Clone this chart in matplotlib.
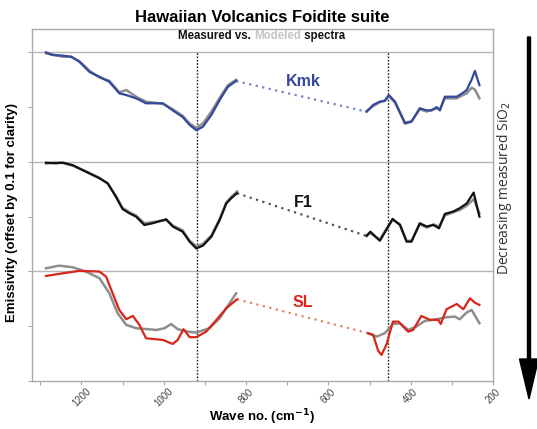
import matplotlib
matplotlib.use("Agg")
import matplotlib.pyplot as plt
from matplotlib.patches import FancyArrow

plt.rcParams['font.family'] = ['Liberation Sans', 'DejaVu Sans']

# ---- spectra (wave number, emissivity) ----
# Kmk
kmk_wn_a = [1286, 1270, 1245, 1225, 1205, 1180, 1156, 1132, 1108, 1091, 1067, 1043,
            1002, 978, 954, 937, 921, 905, 884, 864, 844, 824]
kmk_meas_a = [1.000, 0.9975, 0.997, 0.996, 0.9914, 0.982, 0.9777, 0.973, 0.9626, 0.961,
              0.958, 0.9535, 0.9535, 0.947, 0.941, 0.9337, 0.929, 0.932, 0.943, 0.9565,
              0.9686, 0.9738]
kmk_mod_a = [0.999, 0.998, 0.996, 0.996, 0.992, 0.983, 0.977, 0.974, 0.9635, 0.9656,
             0.9595, 0.955, 0.953, 0.948, 0.942, 0.935, 0.931, 0.935, 0.946, 0.9585,
             0.970, 0.975]
kmk_wn_b = [507, 491, 475, 463, 453, 438, 414, 398, 378, 361, 349, 337, 329, 317, 288,
            273, 264, 252, 244, 233]
kmk_meas_b = [0.9458, 0.952, 0.955, 0.9556, 0.961, 0.955, 0.935, 0.9367, 0.949, 0.947,
              0.947, 0.950, 0.947, 0.9595, 0.9595, 0.963, 0.9656, 0.975, 0.983, 0.970]
kmk_mod_b = [0.9465, 0.951, 0.9545, 0.956, 0.960, 0.954, 0.936, 0.937, 0.948, 0.946,
             0.9475, 0.949, 0.948, 0.958, 0.958, 0.961, 0.9625, 0.9677, 0.966, 0.958]

# F1
f1_wn_a = [1286, 1262, 1245, 1221, 1189, 1156, 1136, 1116, 1100, 1083, 1067, 1047,
           1027, 994, 978, 954, 937, 921, 905, 884, 864, 848, 836, 822]
f1_meas_a = [0.8993, 0.8987, 0.8993, 0.897, 0.891, 0.885, 0.8805, 0.868, 0.857, 0.853,
             0.850, 0.8424, 0.844, 0.8476, 0.841, 0.8363, 0.8272, 0.821, 0.8235, 0.8318,
             0.847, 0.862, 0.8668, 0.8714]
f1_mod_a = [0.8985, 0.8995, 0.899, 0.8965, 0.8915, 0.8855, 0.880, 0.869, 0.858, 0.854,
            0.851, 0.844, 0.845, 0.847, 0.842, 0.8375, 0.828, 0.823, 0.825, 0.833,
            0.848, 0.863, 0.868, 0.873]
f1_wn_b = [507, 498, 475, 459, 444, 426, 410, 398, 378, 361, 345, 331, 317, 297, 281,
           264, 247, 233]
f1_meas_b = [0.8324, 0.8363, 0.828, 0.838, 0.848, 0.8424, 0.8272, 0.8272, 0.844, 0.841,
             0.8424, 0.8394, 0.8525, 0.8546, 0.8577, 0.862, 0.872, 0.850]
f1_mod_b = [0.833, 0.835, 0.829, 0.839, 0.847, 0.843, 0.828, 0.828, 0.843, 0.840,
            0.843, 0.841, 0.851, 0.854, 0.856, 0.860, 0.866, 0.853]

# SL
sl_wn_a = [1286, 1245, 1205, 1156, 1140, 1124, 1108, 1091, 1075, 1059, 1043, 1002, 978,
           966, 952, 937, 921, 897, 872, 848, 822]
sl_meas_a = [0.7959, 0.7983, 0.8005, 0.7999, 0.7953, 0.780, 0.7649, 0.7564, 0.7594,
             0.7512, 0.739, 0.7375, 0.7338, 0.7375, 0.7473, 0.740, 0.740, 0.745, 0.7558,
             0.7664, 0.7746]
sl_wn_mod_a = [1286, 1254, 1221, 1189, 1156, 1132, 1112, 1091, 1067, 1018, 998, 982, 966,
               941, 921, 889, 864, 840, 824]
sl_mod_a = [0.8029, 0.8053, 0.8038, 0.7999, 0.7938, 0.780, 0.7619, 0.7512, 0.7482, 0.7466,
            0.7482, 0.752, 0.7473, 0.745, 0.7442, 0.7482, 0.7573, 0.771, 0.780]
sl_wn_b = [503, 491, 479, 471, 459, 443, 430, 406, 394, 374, 353, 333, 327, 313, 288,
           272, 256, 244, 233]
sl_meas_b = [0.7436, 0.742, 0.7277, 0.7238, 0.733, 0.7542, 0.7542, 0.745, 0.7466, 0.7594,
             0.7558, 0.7558, 0.752, 0.7655, 0.7703, 0.7655, 0.7755, 0.7715, 0.7694]
sl_wn_mod_b = [503, 483, 463, 443, 426, 406, 386, 366, 337, 313, 293, 281, 264, 252, 233]
sl_mod_b = [0.7436, 0.7405, 0.7436, 0.752, 0.7527, 0.7466, 0.7497, 0.7548, 0.7564, 0.7582,
            0.7588, 0.7564, 0.7625, 0.7649, 0.7527]

band_lines = [918, 455]
xticks = [1200, 1000, 800, 600, 400, 200]

blue = '#34489c'
red = '#d8261b'
grey = '#8e8e8e'

fig = plt.figure(figsize=(5.37, 4.29), dpi=100)
ax = fig.add_axes([32 / 537, 48 / 429, 461 / 537, 352 / 429])

ax.set_xlim(1320, 200)
ax.set_ylim(0.70, 1.0213)

for y in [1.0, 0.9, 0.8]:
    ax.axhline(y, color='#b5b5b5', lw=1.0, zorder=1)
for x in band_lines:
    ax.vlines(x, 0.70, 1.0, colors='#222222', linestyles=(0, (1.2, 1.2)), lw=1.0, zorder=2)

def spectrum(wa, ma, wma, moa, wb, mb, wmb, mob, col, dotcol):
    ax.plot(wma, moa, color=grey, lw=1.8, zorder=3)
    ax.plot(wmb, mob, color=grey, lw=1.8, zorder=3)
    ax.plot(wa, ma, color=col, lw=1.6, zorder=4)
    ax.plot(wb, mb, color=col, lw=1.6, zorder=4)
    ax.plot([wa[-1], wb[0]], [ma[-1], mb[0]], color=dotcol, lw=1.6,
            linestyle=(0, (1, 2)), zorder=3)

spectrum(kmk_wn_a, kmk_meas_a, kmk_wn_a, kmk_mod_a, kmk_wn_b, kmk_meas_b, kmk_wn_b,
         kmk_mod_b, blue, '#7482c4')
spectrum(f1_wn_a, f1_meas_a, f1_wn_a, f1_mod_a, f1_wn_b, f1_meas_b, f1_wn_b, f1_mod_b,
         '#111111', '#555555')
spectrum(sl_wn_a, sl_meas_a, sl_wn_mod_a, sl_mod_a, sl_wn_b, sl_meas_b, sl_wn_mod_b,
         sl_mod_b, red, '#ea8070')

ax.text(660, 0.973, 'Kmk', color=blue, fontsize=11.5, fontweight='bold', ha='center', va='center')
ax.text(662, 0.8625, 'F1', color='#111111', fontsize=11.5, fontweight='bold', ha='center', va='center')
ax.text(662, 0.772, 'SL', color=red, fontsize=11.5, fontweight='bold', ha='center', va='center')

ax.set_xticks(xticks)
ax.set_xticks(range(1300, 200, -200), minor=True)
ax.set_xticklabels([str(t) for t in xticks], rotation=45, fontsize=7, color='#444444')
ax.set_yticks([0.70, 0.75, 0.80, 0.85, 0.90, 0.95, 1.00])
ax.set_yticklabels([])
ax.tick_params(axis='both', which='both', color='#aaaaaa', length=3, width=0.8)
ax.tick_params(axis='x', pad=1)
for s in ax.spines.values():
    s.set_color('#aaaaaa')
    s.set_linewidth(1.0)

fig.text(12 / 537, 1 - 212 / 429, 'Emissivity (offset by 0.1 for clarity)', rotation=90,
         fontsize=9.5, fontweight='bold', ha='center', va='center')
fig.text(262 / 537, 1 - 417 / 429, 'Wave no. (cm$^{\\mathbf{-1}}$)', fontsize=9.5,
         fontweight='bold', ha='center', va='center')

fig.text(262 / 537, 1 - 18 / 429, 'Hawaiian Volcanics Foidite suite', fontsize=12,
         fontweight='bold', ha='center', va='center')

# subtitle with the modelled word in grey
parts = [('Measured vs. ', '#111111'), ('Modeled', '#c4c4c4'), (' spectra', '#111111')]
renderer = fig.canvas.get_renderer()
texts = []
widths = []
for s, c in parts:
    t = fig.text(0, 1 - 36 / 429, s, fontsize=8.3, fontweight='bold', color=c, va='center')
    texts.append(t)
    widths.append(t.get_window_extent(renderer).width)
x0 = 262 - sum(widths) / 2
for t, w in zip(texts, widths):
    t.set_x(x0 / 537)
    x0 += w

fig.text(505 / 537, 1 - 188 / 429, 'Decreasing measured SiO$_2$', rotation=90, fontsize=10,
         color='#333333', ha='center', va='center', family=['Open Sans', 'DejaVu Sans'])
fig.patches.append(FancyArrow(529 / 537, 1 - 37 / 429, 0, -(362 / 429), width=3 / 537,
                              head_width=19 / 537, head_length=40 / 429,
                              length_includes_head=True, color='black',
                              transform=fig.transFigure, figure=fig))

fig.savefig('out.png', dpi=100)
